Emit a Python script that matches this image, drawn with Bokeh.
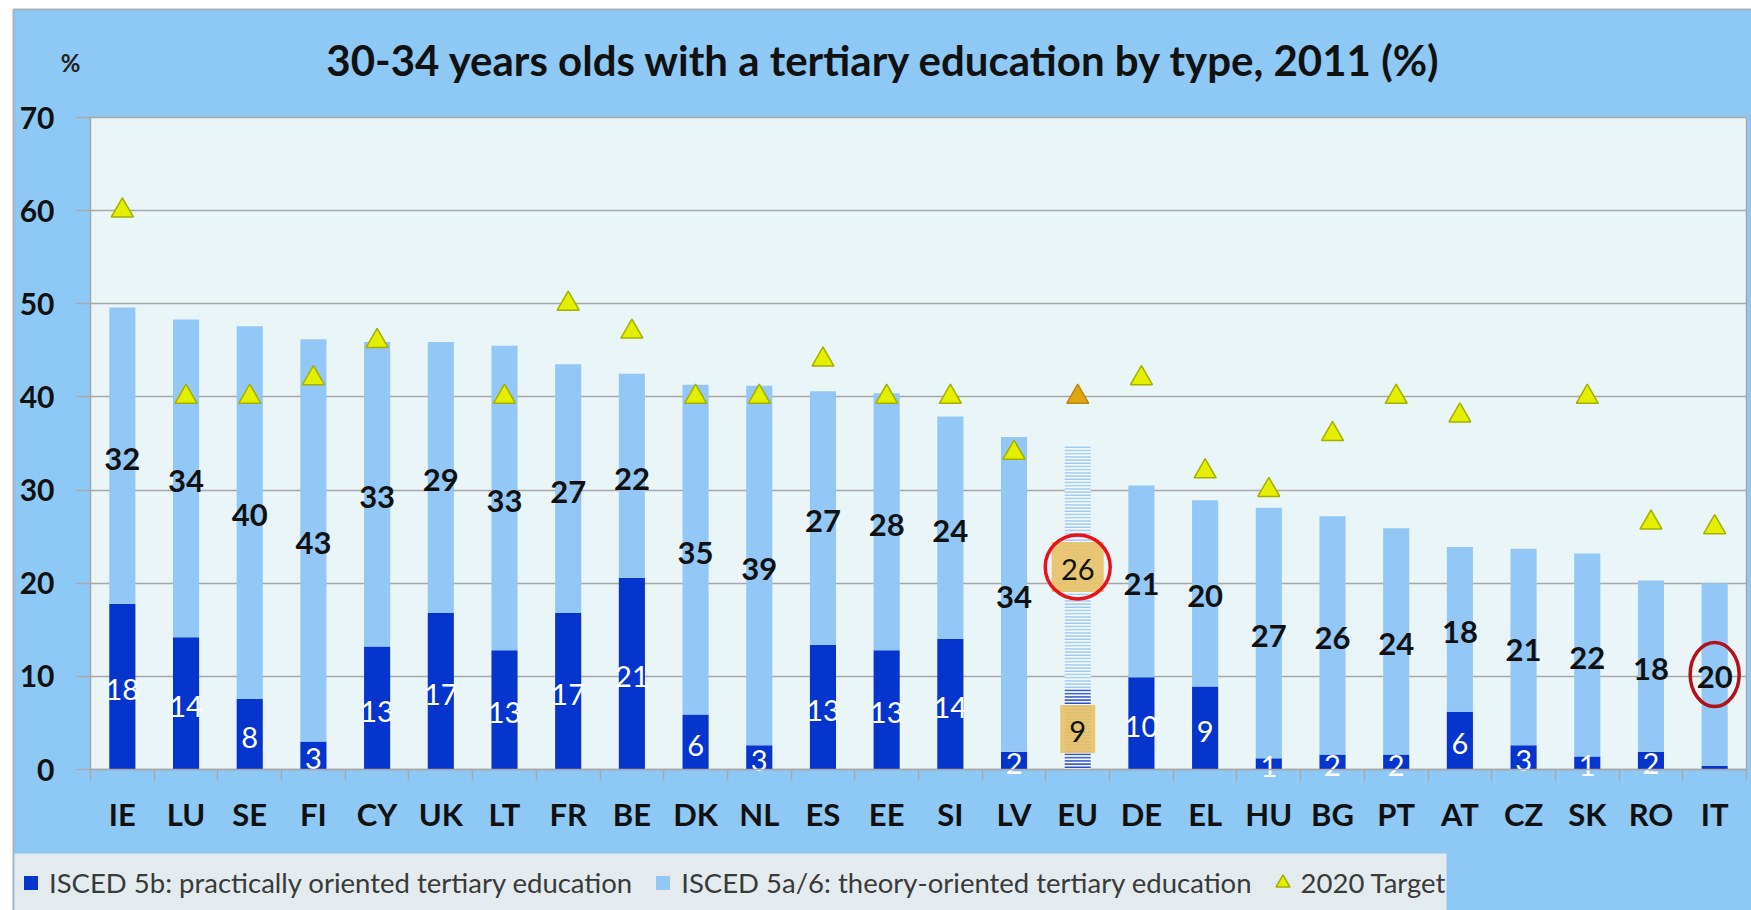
import numpy as np
from bokeh.plotting import figure
from bokeh.models import (ColumnDataSource, Range1d, LinearAxis, FixedTicker, Grid,
                          Label, Legend, LegendItem, CustomJSTickFormatter)
from bokeh.core.properties import value
from bokeh.embed import file_html
from bokeh.resources import INLINE

# ---------------- data ----------------
countries = ["IE", "LU", "SE", "FI", "CY", "UK", "LT", "FR", "BE", "DK", "NL", "ES", "EE",
             "SI", "LV", "EU", "DE", "EL", "HU", "BG", "PT", "AT", "CZ", "SK", "RO", "IT"]
isced_5b = [17.8, 14.2, 7.6, 3.0, 13.2, 16.8, 12.8, 16.8, 20.6, 5.9, 2.6, 13.4, 12.8,
            14.0, 1.9, 8.7, 9.9, 8.9, 1.2, 1.6, 1.6, 6.2, 2.6, 1.4, 1.9, 0.4]
isced_5a6 = [31.8, 34.1, 40.0, 43.2, 32.7, 29.1, 32.7, 26.7, 21.9, 35.4, 38.6, 27.2, 27.6,
             23.9, 33.8, 26.1, 20.6, 20.0, 26.9, 25.6, 24.3, 17.7, 21.1, 21.8, 18.4, 19.6]
target_2020 = [60, 40, 40, 42, 46, np.nan, 40, 50, 47, 40, 40, 44, 40,
               40, 34, 40, 42, 32, 30, 36, 40, 38, np.nan, 40, 26.5, 26]
y_ticks = [0, 10, 20, 30, 40, 50, 60, 70]
highlight = ["EU"]          # hatched bar with boxed labels
circled_5a = ["EU", "IT"]   # labels circled in red

title_text = "30-34 years olds with a tertiary education by type, 2011 (%)"
unit_text = "%"
leg_5b = "ISCED 5b: practically oriented tertiary education"
leg_5a = "ISCED 5a/6: theory-oriented tertiary education"
leg_tg = "2020 Target"

# ---------------- styling / layout ----------------
FONT = "Lato"
OUTER_BG = "#8EC8F5"
FRAME_BG = "#EAF5F8"
LEG_BG = "#E4EBEE"
GRID = "#A8A8A8"
DARK = "#0535CC"
LIGHT = "#93C7F5"
TRI_FILL = "#E4EF00"
TRI_LINE = "#A3B000"
EU_TRI = "#E2A612"
BOX = "#E8C36C"

W_FIG, H_FIG = 1751, 910
PA_LEFT, PA_RIGHT, PA_TOP, PA_BOTTOM = 90, 1746, 117, 769   # plot area in canvas px
CHART_LEFT, CHART_TOP = 13, 9                               # outer chart area start
LEG_RIGHT, LEG_TOP = 1446, 853                              # legend band

n = len(countries)
y_max = max(y_ticks)
px_x = (PA_RIGHT - PA_LEFT) / n
px_y = (PA_BOTTOM - PA_TOP) / y_max
x_range = Range1d(-PA_LEFT / px_x, n + (W_FIG - PA_RIGHT) / px_x)
y_range = Range1d(-(H_FIG - PA_BOTTOM) / px_y, y_max + PA_TOP / px_y)


def xd(px):
    return (px - PA_LEFT) / px_x


def yd(py):
    return (PA_BOTTOM - py) / px_y


pos = np.arange(n) + 0.5          # category centres
b5 = np.array(isced_5b)
a5 = np.array(isced_5a6)
tot = b5 + a5
tg = np.array(target_2020, dtype=float)
hl = np.array([c in highlight for c in countries])


def make_src(mask):
    idx = np.where(mask)[0]
    return ColumnDataSource(dict(
        x=pos[idx],
        zero=[0.0] * len(idx),
        b5=b5[idx], tot=tot[idx],
        mid_b=b5[idx] / 2, mid_a=b5[idx] + a5[idx] / 2,
        lab_b=[f"{b5[i]:.0f}" if round(b5[i]) >= 1 else "" for i in idx],
        lab_a=[f"{a5[i]:.0f}" for i in idx],
        target=tg[idx],
        name=[countries[i] for i in idx],
    ))


src_n = make_src(~hl)
src_h = make_src(hl)
src_c = make_src(np.array([c in circled_5a for c in countries]))

p = figure(x_range=x_range, y_range=y_range, width=W_FIG, height=H_FIG,
           output_backend="svg", toolbar_location=None, x_axis_location=None,
           min_border_left=0, min_border_right=0, min_border_top=0, min_border_bottom=0)
p.background_fill_color = "white"
p.border_fill_color = "white"
p.outline_line_color = None

# outer chart area, legend band and plot-area background
p.quad(left=[xd(CHART_LEFT)], right=[xd(W_FIG + 20)], bottom=[yd(H_FIG + 20)], top=[yd(CHART_TOP)],
       fill_color=OUTER_BG, line_color="#A9B4BA", line_width=2, level="image")
p.quad(left=[xd(CHART_LEFT + 1)], right=[xd(LEG_RIGHT)], bottom=[yd(H_FIG + 20)], top=[yd(LEG_TOP)],
       fill_color=LEG_BG, line_color=None, level="image")
p.quad(left=[0], right=[n], bottom=[0], top=[y_max], fill_color=FRAME_BG, line_color=None,
       level="image")

# y axis (fixed at the plot-area edge)
ya = p.yaxis[0]
ya.fixed_location = 0
ya.bounds = (0, y_max)
ya.ticker = FixedTicker(ticks=y_ticks)
ya.major_label_text_font = FONT
ya.major_label_text_font_style = "bold"
ya.major_label_text_font_size = "30px"
ya.major_label_text_color = "#111111"
ya.major_tick_out = 14
ya.major_tick_in = 0
ya.minor_tick_line_color = None
ya.major_tick_line_color = GRID
ya.major_tick_line_width = 1.5
ya.axis_line_color = GRID
ya.axis_line_width = 1.5
ya.major_label_standoff = 22

yg = p.ygrid[0]
yg.ticker = FixedTicker(ticks=y_ticks)
yg.grid_line_color = GRID
yg.grid_line_width = 1.5
if "cross_bounds" in Grid.properties():
    yg.cross_bounds = (0, n)
else:
    yg.visible = False
    p.segment(x0=[0] * len(y_ticks), x1=[n] * len(y_ticks), y0=y_ticks, y1=y_ticks,
              line_color=GRID, line_width=1.5, level="underlay")
p.xgrid.visible = False
# right border of plot area
p.segment(x0=[n], x1=[n], y0=[0], y1=[y_max], line_color=GRID, line_width=1.5)

# x axis: labels at category centres, tick marks between categories
xaxis = LinearAxis(ticker=FixedTicker(ticks=list(pos), minor_ticks=list(range(n + 1))),
                   formatter=CustomJSTickFormatter(args=dict(names=countries),
                                                   code="return names[Math.floor(tick)] || ''"),
                   fixed_location=0, bounds=(0, n))
xaxis.major_tick_line_color = None
xaxis.major_tick_out = 0
xaxis.major_tick_in = 0
xaxis.minor_tick_out = 11
xaxis.minor_tick_in = 0
xaxis.minor_tick_line_color = GRID
xaxis.minor_tick_line_width = 1.5
xaxis.axis_line_color = GRID
xaxis.axis_line_width = 1.5
xaxis.major_label_text_font = FONT
xaxis.major_label_text_font_style = "bold"
xaxis.major_label_text_font_size = "31px"
xaxis.major_label_text_color = "#111111"
xaxis.major_label_standoff = 14
p.add_layout(xaxis, "below")

W = 0.41
# regular bars
p.vbar(x="x", bottom="zero", top="b5", width=W, source=src_n, fill_color=DARK, line_color=None)
p.vbar(x="x", bottom="b5", top="tot", width=W, source=src_n, fill_color=LIGHT, line_color=None)
# highlighted (hatched) bar
p.vbar(x="x", bottom="zero", top="b5", width=W, source=src_h,
       fill_color="#F4F8FB", line_color=None, hatch_pattern="horizontal_line",
       hatch_color="#2449C8", hatch_scale=3.2, hatch_weight=1.6)
p.vbar(x="x", bottom="b5", top="tot", width=W, source=src_h,
       fill_color="#F4F8FB", line_color=None, hatch_pattern="horizontal_line",
       hatch_color="#9CCBF5", hatch_scale=3.2, hatch_weight=1.6)
# label boxes for highlighted bar
p.rect(x="x", y="mid_a", width=52, height=50, width_units="screen", height_units="screen",
       source=src_h, fill_color=BOX, line_color=None, fill_alpha=0.95)
p.rect(x="x", y="mid_b", width=35, height=48, width_units="screen", height_units="screen",
       source=src_h, fill_color=BOX, line_color=None, fill_alpha=0.95)

# labels
lab_kw = dict(text_font=value(FONT), text_align="center", text_baseline="middle", y_offset=3)
p.text(x="x", y="mid_b", text="lab_b", source=src_n, text_font_size="29px",
       text_color="white", **lab_kw)
p.text(x="x", y="mid_a", text="lab_a", source=src_n, text_font_style="bold",
       text_font_size="31px", text_color="#111111", **lab_kw)
p.text(x="x", y="mid_b", text="lab_b", source=src_h, text_font_size="29px",
       text_color="#111111", **lab_kw)
p.text(x="x", y="mid_a", text="lab_a", source=src_h, text_font_size="29px",
       text_color="#111111", **lab_kw)

# 2020 targets
p.scatter(x="x", y="target", marker="triangle", size=22, source=src_n,
          fill_color=TRI_FILL, line_color=TRI_LINE, line_width=1.5)
p.scatter(x="x", y="target", marker="triangle", size=22, source=src_h,
          fill_color=EU_TRI, line_color="#B88A10", line_width=1.5)

# red circles around labels
src_c.data["col"] = ["#E8121A" if c in highlight else "#B3121B" for c in src_c.data["name"]]
src_c.data["w"] = [65 if c in highlight else 49 for c in src_c.data["name"]]
p.ellipse(x="x", y="mid_a", width="w", height=64, width_units="screen",
          height_units="screen", source=src_c, fill_color=None, line_color="col", line_width=3.5)

# legend (marker proxies that draw nothing on the plot)
l_b = p.scatter(x=[np.nan], y=[np.nan], marker="square", fill_color=DARK, line_color=None)
l_a = p.scatter(x=[np.nan], y=[np.nan], marker="square", fill_color=LIGHT, line_color=None)
l_t = p.scatter(x=[np.nan], y=[np.nan], marker="triangle", fill_color=TRI_FILL,
                line_color=TRI_LINE, line_width=1.5)
legend = Legend(items=[LegendItem(label=leg_5b, renderers=[l_b]),
                       LegendItem(label=leg_5a, renderers=[l_a]),
                       LegendItem(label=leg_tg, renderers=[l_t])],
                orientation="horizontal", location=(CHART_LEFT, 10),
                glyph_width=35, glyph_height=35, label_standoff=1, spacing=13,
                padding=11, margin=0, background_fill_alpha=0,
                border_line_color=None,
                label_text_font=FONT, label_text_font_size="27.5px", label_text_color="#3A3A3A")
p.add_layout(legend)

# title and unit (screen coords measured from the frame's bottom-left)
p.add_layout(Label(x=884, y=H_FIG - 59, x_units="screen", y_units="screen", text=title_text,
                   text_font=FONT, text_font_style="bold", text_font_size="42px",
                   text_color="#111111", text_align="center", text_baseline="alphabetic"))
p.add_layout(Label(x=70, y=H_FIG - 62, x_units="screen", y_units="screen", text=unit_text,
                   text_font=FONT, text_font_style="bold", text_font_size="24px",
                   text_color="#222222", text_align="center", text_baseline="alphabetic"))

open("out.html", "w").write(file_html(p, INLINE))
